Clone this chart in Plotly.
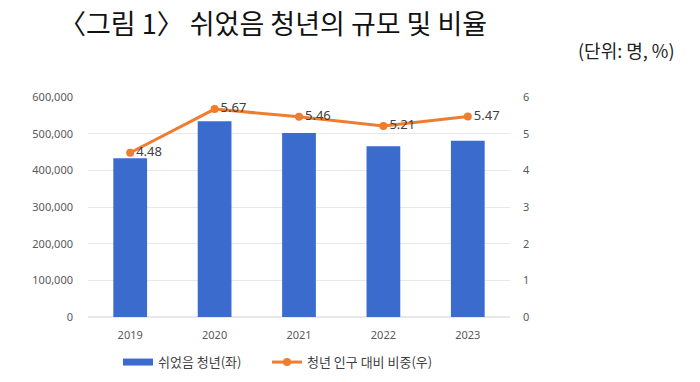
import plotly.graph_objects as go

years = ["2019", "2020", "2021", "2022", "2023"]
rested_youth = [433000, 534000, 502000, 466000, 481000]
share_pct = [4.48, 5.67, 5.46, 5.21, 5.47]
share_labels = ["4.48", "5.67", "5.46", "5.21", "5.47"]

left_ticks = [0, 100000, 200000, 300000, 400000, 500000, 600000]
left_tick_text = ["0", "100,000", "200,000", "300,000", "400,000", "500,000", "600,000"]
right_ticks = [0, 1, 2, 3, 4, 5, 6]

BLUE = "#3b6bcd"
ORANGE = "#ed7d31"

fig = go.Figure()
fig.add_trace(go.Bar(
    x=years, y=rested_youth, name="쉬었음 청년(좌)",
    marker=dict(color=BLUE, line=dict(width=0)),
    yaxis="y", showlegend=False,
))
# legend-only entry to mimic the wide rectangular swatch
fig.add_trace(go.Scatter(
    x=[None], y=[None], name="쉬었음 청년(좌)", mode="lines",
    line=dict(color=BLUE, width=7), yaxis="y", legend="legend",
))
fig.add_trace(go.Scatter(
    x=years, y=share_pct, name="청년 인구 대비 비중(우)",
    mode="lines+markers+text",
    line=dict(color=ORANGE, width=3),
    marker=dict(color=ORANGE, size=8),
    text=share_labels, textposition="middle right",
    textfont=dict(family="Noto Sans, sans-serif", size=13, color="#404040"),
    yaxis="y2", legend="legend2",
))

legend_font = dict(family="Noto Sans CJK KR, sans-serif", size=13, color="#404040")
tick_font = dict(family="Noto Sans, sans-serif", size=11, color="#595959")
fig.update_layout(
    width=700, height=382,
    margin=dict(l=88, r=190, t=97, b=65, autoexpand=False),
    paper_bgcolor="white", plot_bgcolor="white",
    bargap=0.6,
    showlegend=True,
    legend=dict(orientation="h", x=(118 - 88) / 422, xanchor="left", y=-0.205, yanchor="middle",
                font=legend_font, itemwidth=30),
    legend2=dict(orientation="h", x=(267 - 88) / 422, xanchor="left", y=-0.205, yanchor="middle",
                 font=legend_font, itemwidth=30),
    xaxis=dict(type="category", showgrid=False, showline=False, ticks="",
               tickfont=tick_font, ticklabelstandoff=10),
    yaxis=dict(range=[0, 600000], tickvals=left_ticks, ticktext=left_tick_text,
               showgrid=True, gridcolor="#e8e8e8", gridwidth=1, zeroline=True,
               zerolinecolor="#e8e8e8", showline=False, tickfont=tick_font,
               ticks="", ticklabelstandoff=14),
    yaxis2=dict(range=[0, 6], tickvals=right_ticks, overlaying="y", side="right",
                showgrid=False, zeroline=False, showline=False, tickfont=tick_font,
                ticks="", ticklabelstandoff=12),
    annotations=[
        dict(text="〈그림 1〉 쉬었음 청년의 규모 및 비율", xref="paper", yref="paper",
             x=(273 - 88) / 422, y=(317 - 23) / 220, xanchor="center", yanchor="middle",
             showarrow=False,
             font=dict(family="Noto Sans CJK KR, sans-serif", size=27, color="#111111")),
        dict(text="(단위: 명, %)", xref="paper", yref="paper",
             x=(677 - 88) / 422, y=(317 - 50) / 220, xanchor="right", yanchor="middle",
             showarrow=False,
             font=dict(family="Noto Sans CJK KR, sans-serif", size=18, color="#222222")),
    ],
)

fig.write_html("out.html", config={"displayModeBar": False},
               post_script="document.body.style.margin='0';")
